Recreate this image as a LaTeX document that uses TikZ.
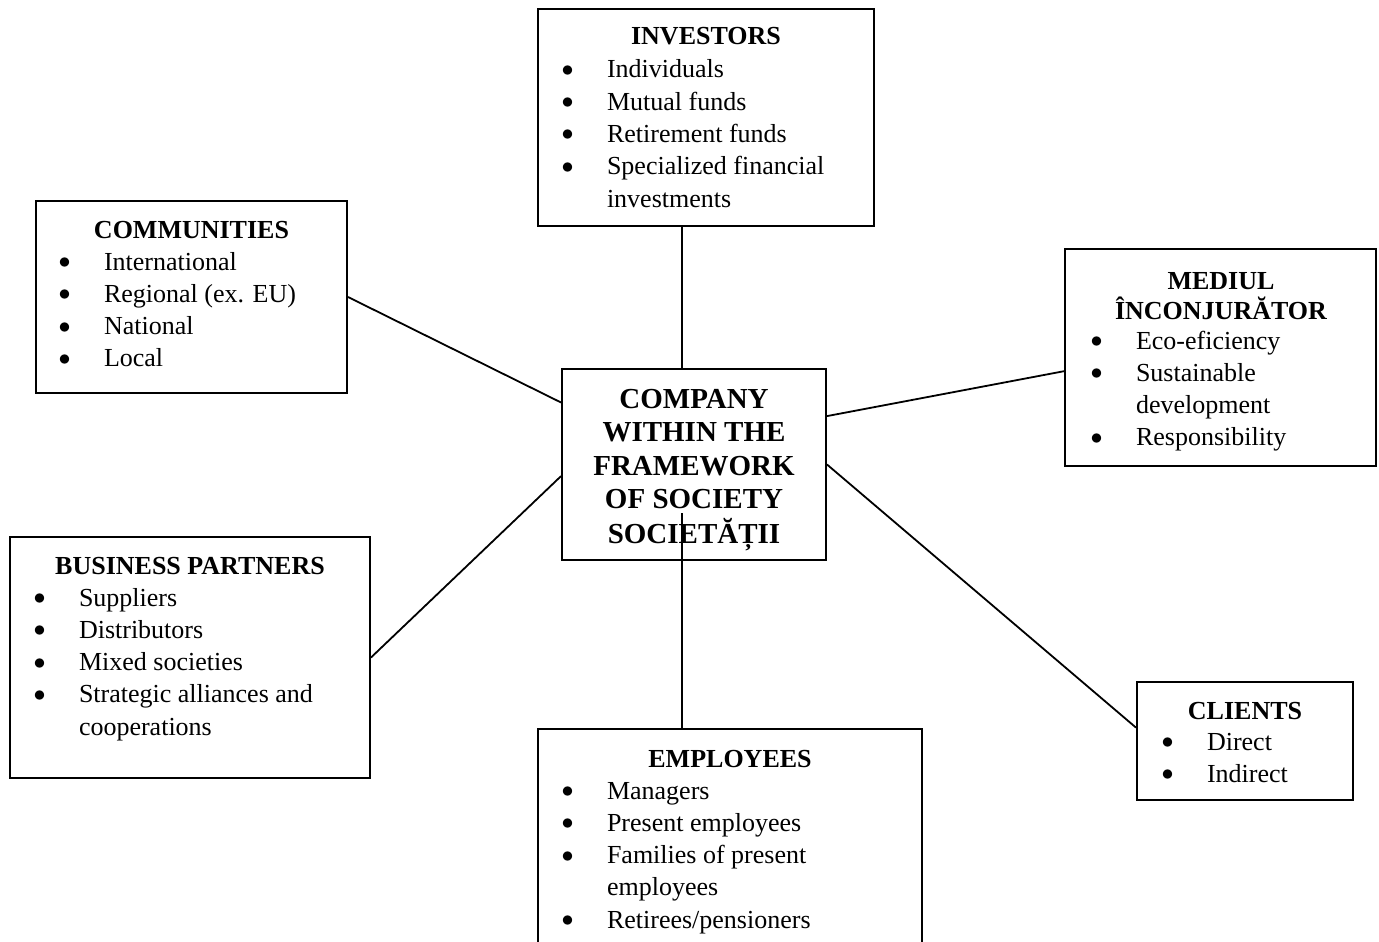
\documentclass[tikz,border=0pt]{standalone}
\usepackage{fontspec}
\setmainfont{Liberation Serif}
\usetikzlibrary{fit}
\newcommand\bul{\llap{\raisebox{0.8pt}{$\bullet$}\hspace{16.75pt}}}
\newcommand\items[1]{\begin{tabular}[t]{@{}l@{}}#1\end{tabular}}
\newcommand\heads[1]{\begin{tabular}[t]{@{}c@{}}#1\end{tabular}}
\begin{document}
\begin{tikzpicture}[x=0.5pt, y=-0.5pt, line width=1pt,
  box/.style={draw, inner sep=0pt, fit={#1}},
  hd/.style={anchor=base, inner sep=0pt, font=\fontsize{13}{14}\selectfont\bfseries},
  lst/.style={anchor=base west, inner sep=0pt, font=\fontsize{13}{16.15}\selectfont},
  link/.style={line width=0.9pt}]
  \useasboundingbox (0,0) rectangle (1379,941);
  \clip (0,0) rectangle (1379,941);
  % the company in the middle
  \node[box={(562,369) (826,560)}] (firm) {};
  \node[hd, font=\fontsize{14.5}{16.75}\selectfont\bfseries] (firmtxt) at (694,408)
    {\heads{COMPANY\\WITHIN THE\\FRAMEWORK\\OF SOCIETY\\SOCIETĂȚII}};
  % stakeholder boxes, clockwise from the top
  \node[box={(538,9) (874,226)}] (inv) {};
  \node[hd] (invhd) at (706,45) {INVESTORS};
  \node[lst] (invls) at (606,78) {\items{\bul Individuals\\ \bul Mutual funds\\ \bul Retirement funds\\
    \bul Specialized financial\\ investments}};
  \node[box={(1065,249) (1376,466)}] (med) {};
  \node[hd] (medhd) at (1221,289) {\heads{MEDIUL\\ÎNCONJURĂTOR}};
  \node[lst] (medls) at (1135,349) {\items{\bul Eco-eficiency\\ \bul Sustainable\\ development\\ \bul Responsibility}};
  \node[box={(1137,682) (1353,800)}] (cli) {};
  \node[hd] (clihd) at (1245,719) {CLIENTS};
  \node[lst] (clils) at (1206,750) {\items{\bul Direct\\ \bul Indirect}};
  \node[box={(538,729) (922,960)}] (emp) {};
  \node[hd] (emphd) at (730,767) {EMPLOYEES};
  \node[lst] (empls) at (606,799) {\items{\bul Managers\\ \bul Present employees\\ \bul Families of present\\
    employees\\ \bul Retirees/pensioners}};
  \node[box={(10,537) (370,778)}] (bus) {};
  \node[hd] (bushd) at (190,574) {BUSINESS PARTNERS};
  \node[lst] (busls) at (78,606) {\items{\bul Suppliers\\ \bul Distributors\\ \bul Mixed societies\\
    \bul Strategic alliances and\\ cooperations}};
  \node[box={(36,201) (347,393)}] (com) {};
  \node[hd] (comhd) at (191.5,238) {COMMUNITIES};
  \node[lst] (comls) at (103,270) {\items{\bul International\\ \bul Regional (ex. EU)\\ \bul National\\ \bul Local}};
  % connectors
  \coordinate (ax) at (682,0);
  \coordinate (cut) at (682,513);
  \draw[link] (inv.south -| ax) -- (firm.north -| ax);
  \draw[link] (com.east) -- (firm.155);
  \draw[link] (bus.east) -- (firm.185);
  \draw[link] (med.185) -- (firm.20);
  \draw[link] (cli.173) -- (firm.east);
  \draw[link] (cut) -- (emp.north -| ax);
\end{tikzpicture}
\end{document}
